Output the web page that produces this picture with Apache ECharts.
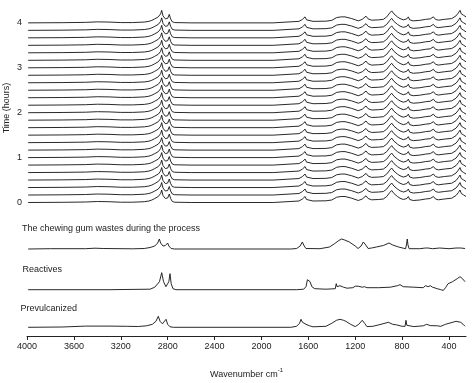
<!DOCTYPE html>
<html>
<head>
<meta charset="utf-8">
<script src="https://cdn.jsdelivr.net/npm/echarts@6/dist/echarts.min.js"></script>
<style>html,body{margin:0;padding:0;background:#fff}#c{width:476px;height:383px}</style>
</head>
<body>
<div id="c"></div>
<script>
// ---- data ----
// time of each stacked spectrum (hours)
const times = [0, 1/6, 2/6, 3/6, 4/6, 5/6, 1, 7/6, 8/6, 9/6, 10/6, 11/6, 2, 13/6, 14/6, 15/6, 16/6, 17/6, 3, 19/6, 20/6, 21/6, 22/6, 23/6, 4];
// typical spectrum of the process traces: wavenumber (cm-1) and absorbance (a.u.)
const procWn  = [3990,3700,3500,3400,3300,3200,3100,3000,2960,2935,2910,2880,2860,2851,2840,2820,2800,2786,2775,2760,2740,2600,2200,1900,1756,1680,1650,1628,1615,1600,1560,1450,1400,1358,1320,1287,1230,1174,1140,1108,1090,1060,1000,960,931,905,889,870,840,818,790,760,747,735,705,650,600,560,533,515,491,440,377,340,320,306,295,277,255];
const procAbs = [0,0.2,0.5,1.0,0.8,0.3,0.3,0.8,1.5,2.5,4,6,9,12.5,7,4,4.5,8.5,4,1,0.3,0,0,0,1,1.5,3.5,6,3,1.7,1.5,1.7,2.5,5.3,6,6,4.3,2,3.5,6.7,4,2.7,3,3.5,6,10,12,9,6,4.3,3,4,6,3,2,2.5,3.5,4,6,3.5,2.7,3.5,4.3,7,10,12.5,9,7.7,6];
// reference spectra
const gumWn  = [3990,3800,3500,3420,3350,3100,3000,2950,2910,2885,2871,2860,2840,2820,2800,2790,2770,2740,1750,1700,1670,1651,1635,1620,1500,1420,1380,1340,1315,1290,1250,1200,1176,1150,1131,1110,1090,1060,1020,960,912,880,830,790,770,762,756,750,740,650,600,590,580,540,480,470,400,340,323,300,263];
const gumAbs = [0,0.3,0.3,0.8,0.5,0.2,0.5,1.5,3,6,10,6,3,3.5,6,3,0.5,0,0,0.5,3,7,3,0.5,0.3,2,5,8.5,10,9,7,3,0.5,3,7,4,0.5,1,2,3.5,6,4,2,0.8,0.3,5,10,4,0.3,0.3,1,3,1,0.3,1,0.3,0.3,1,1.5,1,0.5];
const reaWn  = [3990,3300,2950,2910,2894,2870,2851,2835,2815,2800,2790,2780,2770,2755,2730,1700,1640,1620,1608,1600,1585,1570,1545,1450,1370,1362,1355,1330,1300,1270,1220,1200,1188,1175,1160,1140,1120,1100,1000,900,840,818,790,700,620,600,590,578,560,540,500,470,448,430,408,370,330,306,285,263];
const reaAbs = [0,0,0.5,2.5,4,8,17,8,3,4,8,16,6,1,0,0,0.5,3,10,12,8,3,1,0.5,1,6,3,4,2.5,1.5,2,3.5,5,3.5,4,2.5,3,2,2,2.5,4,5,3,2.5,2,4,6,3,4,2.5,1,0,-0.7,2,6,8,11,13,11,8];
const preWn  = [3990,3700,3500,3300,3150,3050,2980,2930,2900,2880,2865,2845,2830,2814,2800,2780,2750,1750,1700,1675,1663,1650,1620,1590,1560,1450,1400,1360,1330,1300,1280,1240,1200,1170,1140,1120,1100,1050,980,918,880,850,800,775,767,760,750,700,620,590,560,500,470,430,400,340,323,300,280,263];
const preAbs = [0,0.3,1.2,1.2,1,0.8,1.5,3,6,11,6,3.5,4,8,3,0.5,0,0,1,4,8,5,3,1.5,0.5,1,4,7,8,7,6,3,0.7,3,7,4,0.7,1,3,5,3,2.5,1,1,7,2,0.7,0.7,1.5,3,1.7,1.5,1,3,4,6,7,5,3,1];
const refNames   = ['The chewing gum wastes during the process', 'Reactives', 'Prevulcanized'];
const refOffsets = [87, 46.3, 8.7];   // stacking offsets of the reference spectra (a.u.)
const xTickLabels = [4000, 3600, 3200, 2800, 2400, 2000, 1600, 1200, 800, 400];
const yTickLabels = [0, 1, 2, 3, 4];

// ---- chart ----
const FONT = 'Liberation Sans, Arial, sans-serif';
const TOP_SCALE = 1 / 44.9; // a.u. -> hours in the stacked panel
const LINE = '#111';

function pairs(wn, ab, scale, off) {
  return wn.map((w, i) => [w, ab[i] * scale + off]);
}

const series = [];
times.forEach((t, k) => {
  series.push({
    type: 'line', xAxisIndex: 0, yAxisIndex: 0, showSymbol: false, silent: true,
    lineStyle: { color: LINE, width: 0.9 },
    data: pairs(procWn, procAbs, TOP_SCALE, t)
  });
});
const refs = [[gumWn, gumAbs], [reaWn, reaAbs], [preWn, preAbs]];
refs.forEach((r, i) => {
  series.push({
    type: 'line', name: refNames[i], xAxisIndex: 1, yAxisIndex: 1, showSymbol: false, silent: true,
    lineStyle: { color: LINE, width: 0.9 },
    data: pairs(r[0], r[1], 1, refOffsets[i])
  });
});

const chart = echarts.init(document.getElementById('c'), null, { renderer: 'canvas' });
chart.setOption({
  animation: false,
  backgroundColor: '#fff',
  textStyle: { fontFamily: FONT },
  grid: [
    { left: 27, right: 10, top: 9.4, height: 197.6 },
    { left: 27, right: 10, top: 222, height: 114 }
  ],
  xAxis: [
    { gridIndex: 0, type: 'value', inverse: true, min: 255, max: 4000, show: false },
    { gridIndex: 1, type: 'value', inverse: true, min: 255, max: 4000,
      axisLine: { show: true, lineStyle: { color: '#222', width: 1 } },
      axisTick: { show: true, length: 4, lineStyle: { color: '#222' }, customValues: xTickLabels },
      axisLabel: { color: '#222', fontSize: 9, margin: 6, fontFamily: FONT, customValues: xTickLabels,
                   formatter: v => String(v) },
      splitLine: { show: false },
      name: '{a|Wavenumber cm}{s|-1}', nameLocation: 'middle', nameGap: 31,
      nameTextStyle: { rich: {
        a: { fontSize: 9, color: '#222', fontFamily: FONT, lineHeight: 12, verticalAlign: 'bottom' },
        s: { fontSize: 6, color: '#222', fontFamily: FONT, verticalAlign: 'top' }
      } }
    }
  ],
  yAxis: [
    { gridIndex: 0, type: 'value', min: -0.1, max: 4.3,
      axisLine: { show: false }, axisTick: { show: false }, splitLine: { show: false },
      axisLabel: { color: '#222', fontSize: 9, margin: 5, fontFamily: FONT, customValues: yTickLabels,
                   formatter: v => String(v) }
    },
    { gridIndex: 1, type: 'value', min: 0, max: 114, show: false }
  ],
  graphic: [
    { type: 'text', rotation: Math.PI / 2, x: 7, y: 108,
      style: { text: 'Time (hours)', fontSize: 9, fill: '#222', fontFamily: FONT, align: 'center', verticalAlign: 'middle' } },
    { type: 'text', x: 22, y: 229, style: { text: refNames[0], fontSize: 9, fill: '#222', fontFamily: FONT, verticalAlign: 'middle' } },
    { type: 'text', x: 22.5, y: 270, style: { text: refNames[1], fontSize: 9, fill: '#222', fontFamily: FONT, verticalAlign: 'middle' } },
    { type: 'text', x: 20.5, y: 309, style: { text: refNames[2], fontSize: 9, fill: '#222', fontFamily: FONT, verticalAlign: 'middle' } }
  ],
  series: series
});
</script>
</body>
</html>
